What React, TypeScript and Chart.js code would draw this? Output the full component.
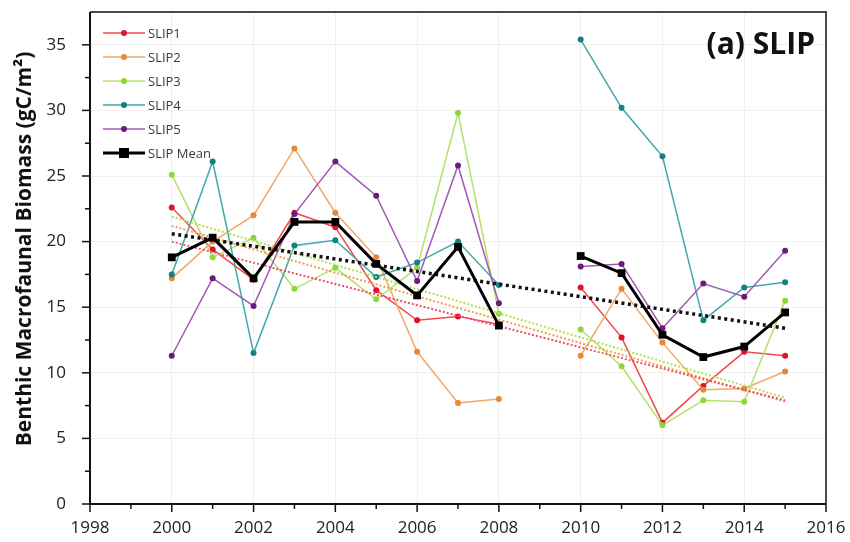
import React, { useEffect, useRef } from 'react';
import { Chart, registerables } from 'chart.js';

Chart.register(...registerables);

// ---------- data ----------
const years = [2000, 2001, 2002, 2003, 2004, 2005, 2006, 2007, 2008, 2009, 2010, 2011, 2012, 2013, 2014, 2015];
const slip1 = [22.6, 19.4, 17.1, 22.2, 21.1, 16.3, 14.0, 14.3, 13.7, null, 16.5, 12.7, 6.2, 9.0, 11.6, 11.3];
const slip2 = [17.2, 20.0, 22.0, 27.1, 22.2, 18.8, 11.6, 7.7, 8.0, null, 11.3, 16.4, 12.3, 8.7, 8.8, 10.1];
const slip3 = [25.1, 18.8, 20.3, 16.4, 18.0, 15.6, 18.0, 29.8, 14.5, null, 13.3, 10.5, 6.0, 7.9, 7.8, 15.5];
const slip4 = [17.5, 26.1, 11.5, 19.7, 20.1, 17.3, 18.4, 20.0, 16.7, null, 35.4, 30.2, 26.5, 14.0, 16.5, 16.9];
const slip5 = [11.3, 17.2, 15.1, 22.1, 26.1, 23.5, 17.0, 25.8, 15.3, null, 18.1, 18.3, 13.4, 16.8, 15.8, 19.3];
const slipMean = [18.8, 20.3, 17.2, 21.5, 21.5, 18.3, 15.9, 19.6, 13.6, null, 18.9, 17.6, 12.9, 11.2, 12.0, 14.6];

// linear trend end points
const trendYears = [2000, 2015];
const trend1 = [20.0, 7.9];
const trend2 = [21.2, 7.8];
const trend3 = [21.9, 8.1];
const trendMean = [20.6, 13.4];

const seriesLabels = ['SLIP1', 'SLIP2', 'SLIP3', 'SLIP4', 'SLIP5', 'SLIP Mean'];
const xTickValues = [1998, 2000, 2002, 2004, 2006, 2008, 2010, 2012, 2014, 2016];
const yTickValues = [0, 5, 10, 15, 20, 25, 30, 35];
const yTitle = 'Benthic Macrofaunal Biomass (gC/m\u00B2)';
const panelTitle = '(a) SLIP';

// ---------- styles ----------
const lineColors = ['#f24a4a', '#f2a868', '#b2e26a', '#3fa8a8', '#a457b4', '#000000'];
const markerColors = ['#e0122c', '#e4883a', '#8ed63a', '#15807f', '#6b1b7d', '#000000'];
const trendColors = ['#f0506a', '#f0a048', '#b4e048', '#000000'];

const toPts = (xs: number[], ys: (number | null)[]) => xs.map((x, i) => ({ x, y: ys[i] }));

const FONT = '"Open Sans", "DejaVu Sans", sans-serif';

const decorPlugin = {
  id: 'decor',
  afterDraw(chart: any) {
    const { ctx, chartArea: ca, scales } = chart;
    const x = scales.x;
    const y = scales.y;
    ctx.save();
    // top and right frame
    ctx.strokeStyle = '#4a4a4a';
    ctx.lineWidth = 2;
    ctx.beginPath();
    ctx.moveTo(ca.left, ca.top);
    ctx.lineTo(ca.right, ca.top);
    ctx.lineTo(ca.right, ca.bottom);
    ctx.stroke();
    // left & bottom axes
    ctx.strokeStyle = '#111';
    ctx.lineWidth = 2;
    ctx.beginPath();
    ctx.moveTo(ca.left, ca.top);
    ctx.lineTo(ca.left, ca.bottom);
    ctx.lineTo(ca.right, ca.bottom);
    ctx.stroke();
    // x ticks (major at labelled values, minor between)
    ctx.lineWidth = 1.5;
    for (let i = 0; i < xTickValues.length; i++) {
      const v = xTickValues[i];
      const px = x.getPixelForValue(v);
      ctx.beginPath();
      ctx.moveTo(px, ca.bottom);
      ctx.lineTo(px, ca.bottom + 8);
      ctx.stroke();
      if (i < xTickValues.length - 1) {
        const mv = (v + xTickValues[i + 1]) / 2;
        const mpx = x.getPixelForValue(mv);
        ctx.beginPath();
        ctx.moveTo(mpx, ca.bottom);
        ctx.lineTo(mpx, ca.bottom + 5);
        ctx.stroke();
      }
    }
    for (let i = 0; i < yTickValues.length; i++) {
      const v = yTickValues[i];
      const py = y.getPixelForValue(v);
      ctx.beginPath();
      ctx.moveTo(ca.left - 8, py);
      ctx.lineTo(ca.left, py);
      ctx.stroke();
      const mv = i < yTickValues.length - 1 ? (v + yTickValues[i + 1]) / 2 : v + 2.5;
      if (mv < y.max) {
        const mpy = y.getPixelForValue(mv);
        ctx.beginPath();
        ctx.moveTo(ca.left - 5, mpy);
        ctx.lineTo(ca.left, mpy);
        ctx.stroke();
      }
    }
    // y axis title
    ctx.save();
    ctx.translate(25, 249);
    ctx.rotate(-Math.PI / 2);
    ctx.font = `bold 21px ${FONT}`;
    ctx.fillStyle = '#111';
    ctx.textAlign = 'center';
    ctx.textBaseline = 'middle';
    ctx.fillText(yTitle, 0, 0);
    ctx.restore();
    // panel title
    ctx.font = `bold 30px ${FONT}`;
    ctx.fillStyle = '#111';
    ctx.textAlign = 'right';
    ctx.textBaseline = 'middle';
    ctx.fillText(panelTitle, ca.right - 11, 45);
    // legend
    ctx.font = `13px ${FONT}`;
    ctx.textAlign = 'left';
    for (let i = 0; i < seriesLabels.length; i++) {
      const ly = 33 + i * 24;
      const isMean = i === 5;
      ctx.strokeStyle = lineColors[i];
      ctx.lineWidth = isMean ? 3 : 1.5;
      ctx.beginPath();
      ctx.moveTo(103, ly);
      ctx.lineTo(145, ly);
      ctx.stroke();
      ctx.fillStyle = markerColors[i];
      if (isMean) {
        ctx.fillRect(124 - 5, ly - 5, 10, 10);
      } else {
        ctx.beginPath();
        ctx.arc(124, ly, 3, 0, Math.PI * 2);
        ctx.fill();
      }
      ctx.fillStyle = '#3a3a3a';
      ctx.fillText(seriesLabels[i], 148, ly + 1);
    }
    ctx.restore();
  },
};

export default function App() {
  const ref = useRef<HTMLCanvasElement | null>(null);
  useEffect(() => {
    if (!ref.current) return;
    const seriesData = [slip1, slip2, slip3, slip4, slip5];
    const datasets: any[] = seriesData.map((arr, i) => ({
      label: seriesLabels[i],
      data: toPts(years, arr),
      borderColor: lineColors[i],
      backgroundColor: markerColors[i],
      pointBackgroundColor: markerColors[i],
      pointBorderColor: markerColors[i],
      pointRadius: 3,
      pointBorderWidth: 0,
      borderWidth: 1.5,
      spanGaps: false,
      tension: 0,
      order: 5 - i + 3,
    }));
    const trends = [trend1, trend2, trend3];
    trends.forEach((t, i) => {
      datasets.push({
        label: 'trend' + (i + 1),
        data: toPts(trendYears, t),
        borderColor: trendColors[i],
        borderWidth: 2,
        borderDash: [2, 2],
        pointRadius: 0,
        order: 2,
      });
    });
    datasets.push({
      label: 'trendMean',
      data: toPts(trendYears, trendMean),
      borderColor: '#111',
      borderWidth: 3.5,
      borderDash: [3, 3.5],
      pointRadius: 0,
      order: 1,
    });
    datasets.push({
      label: seriesLabels[5],
      data: toPts(years, slipMean),
      borderColor: '#000',
      backgroundColor: '#000',
      pointBackgroundColor: '#000',
      pointBorderColor: '#000',
      pointStyle: 'rect',
      pointRadius: 5.5,
      pointBorderWidth: 0,
      borderWidth: 3,
      spanGaps: false,
      order: 0,
    });

    const chart = new Chart(ref.current, {
      type: 'line',
      data: { datasets },
      options: {
        responsive: false,
        animation: false,
        layout: { padding: { top: 12, right: 24, left: 0, bottom: 0 } },
        plugins: { legend: { display: false }, tooltip: { enabled: false } },
        scales: {
          x: {
            type: 'linear',
            min: 1998,
            max: 2016,
            afterBuildTicks: (s: any) => {
              s.ticks = xTickValues.map((v) => ({ value: v }));
            },
            afterFit: (s: any) => {
              s.height = 38;
              s.paddingLeft = 0;
              s.paddingRight = 0;
            },
            grid: { color: '#f0f0f0', lineWidth: 1, drawTicks: false },
            border: { display: false },
            ticks: {
              padding: 14,
              maxRotation: 0,
              autoSkip: false,
              color: '#222',
              font: { family: FONT, size: 17 },
              callback: (v: any) => String(v),
            },
          },
          y: {
            type: 'linear',
            min: 0,
            max: 37.5,
            afterBuildTicks: (s: any) => {
              s.ticks = yTickValues.map((v) => ({ value: v }));
            },
            afterFit: (s: any) => {
              s.width = 90;
              s.paddingTop = 0;
              s.paddingBottom = 0;
            },
            grid: { color: '#f0f0f0', lineWidth: 1, drawTicks: false },
            border: { display: false },
            ticks: {
              padding: 24,
              autoSkip: false,
              color: '#222',
              font: { family: FONT, size: 17 },
              callback: (v: any) => String(v),
            },
          },
        },
      },
      plugins: [decorPlugin],
    } as any);
    return () => chart.destroy();
  }, []);

  return (
    <div style={{ position: 'absolute', left: 0, top: 0, width: 850, height: 542, background: '#fff' }}>
      <canvas ref={ref} width={850} height={542} />
    </div>
  );
}
